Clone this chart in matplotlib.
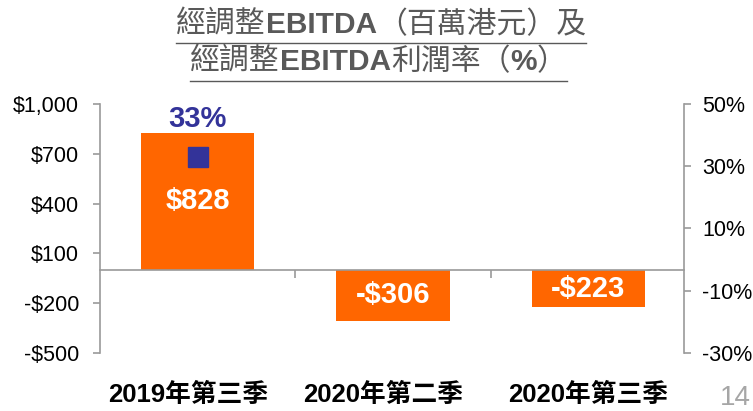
import matplotlib
matplotlib.use('Agg')
import matplotlib.pyplot as plt
from matplotlib.lines import Line2D
import matplotlib.transforms as mtransforms

# ---- data ----
categories = ['2019年第三季', '2020年第二季', '2020年第三季']
ebitda = [828, -306, -223]
ebitda_labels = ['$828', '-$306', '-$223']
margin_x = [0]
margin = [33]
margin_labels = ['33%']
left_ticks = [-500, -200, 100, 400, 700, 1000]
left_ticklabels = ['-$500', '-$200', '$100', '$400', '$700', '$1,000']
right_ticks = [-30, -10, 10, 30, 50]
right_ticklabels = ['-30%', '-10%', '10%', '30%', '50%']
title_line1 = [('經調整', 'cjk'), ('EBITDA', 'lat'), ('（百萬港元）及', 'cjk')]
title_line2 = [('經調整', 'cjk'), ('EBITDA', 'lat'), ('利潤率（', 'cjk'), ('%', 'lat'), ('）', 'cjk')]
page_number = '14'

# ---- style ----
ORANGE = '#FF6600'
NAVY = '#333399'
GRAY = '#9A9A9A'
TITLE_GRAY = '#595959'
LAT = ['Liberation Sans', 'Noto Sans CJK TC']
CJK = ['Noto Sans CJK TC', 'Liberation Sans']

W, H = 753, 411
fig = plt.figure(figsize=(W / 100, H / 100), dpi=100)
ax = fig.add_axes([100 / W, 1 - 353 / H, 584 / W, 249 / H])

x = list(range(len(categories)))
ax.bar(x, ebitda, width=0.58, color=ORANGE, zorder=2)
ax.set_xlim(-0.5, 2.49)
ax.set_ylim(-500, 1000)

for s in ['top', 'right']:
    ax.spines[s].set_visible(False)
ax.spines['left'].set_color(GRAY)
ax.spines['left'].set_linewidth(1.2)
ax.spines['bottom'].set_position(('data', 0))
ax.spines['bottom'].set_color(GRAY)
ax.spines['bottom'].set_linewidth(1.2)
ax.spines['bottom'].set_zorder(3)

ax.set_yticks(left_ticks)
ax.set_yticklabels(left_ticklabels, family=LAT, fontsize=15.5)
ax.tick_params(axis='y', direction='out', length=5, width=1.2, color=GRAY, pad=10)
ax.set_xticks([])
ax.set_xticks([0.5, 1.5], minor=True)
ax.tick_params(axis='x', which='minor', direction='out', length=6, width=1.2,
               color=GRAY, labelbottom=False)

# category labels
trans = mtransforms.blended_transform_factory(ax.transData, ax.transAxes)
label_dx = [-0.05, -0.05, 0.0]
for xi, cat, dx in zip(x, categories, label_dx):
    ax.text(xi + dx, (353 - 395) / 249, cat, transform=trans, ha='center', va='center',
            family=LAT, fontsize=18.5, fontweight='bold', color='black')

# value labels inside bars
for xi, v, lab in zip(x, ebitda, ebitda_labels):
    ax.text(xi, v / 2, lab, ha='center', va='center', color='white',
            family=LAT, fontsize=21, fontweight='bold', zorder=4)

# right axis
ax2 = ax.twinx()
ax2.set_ylim(-30, 50)
for s in ['top', 'left', 'bottom']:
    ax2.spines[s].set_visible(False)
ax2.spines['right'].set_color(GRAY)
ax2.spines['right'].set_linewidth(1.2)
ax2.set_yticks(right_ticks)
ax2.set_yticklabels(right_ticklabels, family=LAT, fontsize=15.5)
ax2.tick_params(axis='y', direction='out', length=5, width=1.2, color=GRAY, pad=8)

ax2.plot(margin_x, margin, 's', color=NAVY, ms=14, zorder=5)
for xi, lab in zip(margin_x, margin_labels):
    ax.annotate(lab, xy=(xi, ebitda[xi]), xytext=(0, 0), textcoords='offset points',
                ha='center', va='bottom', color=NAVY, family=LAT, fontsize=21,
                fontweight='bold')

# ---- title with mixed fonts, underlined ----
def draw_line(segments, x0, baseline, underline_y, size=21.5):
    texts = []
    for seg, kind in segments:
        if kind == 'lat':
            t = fig.text(0, 1 - baseline / H, seg, family=LAT, fontweight='bold',
                         fontsize=size, color=TITLE_GRAY, va='baseline', ha='left')
        else:
            t = fig.text(0, 1 - baseline / H, seg, family=CJK, fontweight='normal',
                         fontsize=size, color=TITLE_GRAY, va='baseline', ha='left')
        texts.append(t)
    fig.canvas.draw()
    r = fig.canvas.get_renderer()
    cur = x0
    for t in texts:
        t.set_x(cur / W)
        w = t.get_window_extent(r).width
        cur += w
    fig.add_artist(Line2D([x0 / W, cur / W], [1 - underline_y / H] * 2,
                          color=TITLE_GRAY, lw=1.0, transform=fig.transFigure))

draw_line(title_line1, 176, 33, 43)
draw_line(title_line2, 190, 70, 81)

fig.text(720 / W, 1 - 398 / H, page_number, family=LAT, fontsize=20,
         color='#A6A6A6', ha='left', va='center')

fig.savefig('out.png', dpi=100)
